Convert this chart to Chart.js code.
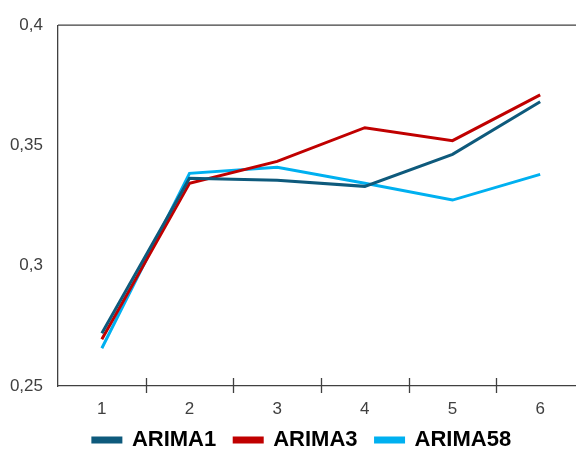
<!DOCTYPE html>
<html>
<head>
<meta charset="utf-8">
<script src="https://cdn.jsdelivr.net/npm/chart.js@4.4.1/dist/chart.umd.min.js"></script>
<style>
  html, body { margin: 0; padding: 0; background: #fff; }
  #wrap { width: 576px; height: 453px; overflow: hidden; }
</style>
</head>
<body>
<div id="wrap"><canvas id="chart" width="584" height="453"></canvas></div>
<script>
const categories = ['1', '2', '3', '4', '5', '6'];
const arima1 = [0.2719, 0.3364, 0.3355, 0.3330, 0.3463, 0.3682];
const arima3 = [0.2694, 0.3343, 0.3434, 0.3574, 0.3520, 0.3710];
const arima58 = [0.2657, 0.3384, 0.3409, 0.3343, 0.3273, 0.3380];
const yTicks = [0.25, 0.3, 0.35, 0.4];

// frame: top line + crossing tick marks on the x axis, legend nudged right
const framePlugin = {
  id: 'frame',
  afterLayout(chart) {
    chart.legend.left += 10;
    chart.legend.right += 10;
  },
  afterDraw(chart) {
    const { ctx, chartArea } = chart;
    const x = chart.scales.x;
    ctx.save();
    ctx.strokeStyle = '#404040';
    ctx.lineWidth = 1.3;
    ctx.beginPath();
    ctx.moveTo(chartArea.left, chartArea.top);
    ctx.lineTo(chart.width, chartArea.top);
    for (let i = 1; i < categories.length; i++) {
      const px = Math.round((x.getPixelForValue(i - 1) + x.getPixelForValue(i)) / 2) + 0.5;
      ctx.moveTo(px, chartArea.bottom - 8);
      ctx.lineTo(px, chartArea.bottom + 7);
    }
    ctx.stroke();
    ctx.restore();
  }
};

function series(label, data, color) {
  return {
    label, data,
    borderColor: color,
    backgroundColor: color,
    borderWidth: 3,
    pointRadius: 0,
    tension: 0
  };
}

new Chart(document.getElementById('chart'), {
  type: 'line',
  data: {
    labels: categories,
    datasets: [
      series('ARIMA1', arima1, '#0e5a7c'),
      series('ARIMA3', arima3, '#c00000'),
      series('ARIMA58', arima58, '#00b0f0')
    ]
  },
  options: {
    responsive: false,
    animation: false,
    layout: { padding: { top: 23, right: 0, bottom: 0, left: 0 } },
    plugins: {
      tooltip: { enabled: false },
      legend: {
        position: 'bottom',
        maxHeight: 42,
        labels: {
          boxWidth: 28,
          boxHeight: 4,
          padding: 18,
          color: '#000',
          font: { family: 'Liberation Sans', size: 22, weight: 'bold' }
        }
      }
    },
    scales: {
      x: {
        offset: true,
        grid: { display: false, drawTicks: false },
        border: { display: true, color: '#404040', width: 1.3 },
        ticks: {
          padding: 13,
          color: '#404040',
          font: { family: 'Liberation Sans', size: 17 }
        },
        afterFit(s) {
          s.height = 25;
          s._computeLabelArea = () => undefined; // labels may spill below the box
        }
      },
      y: {
        min: 0.25,
        max: 0.4,
        afterBuildTicks(s) { s.ticks = yTicks.map(v => ({ value: v })); },
        grid: { display: false, drawTicks: false },
        border: { display: true, color: '#404040', width: 1.3 },
        ticks: {
          padding: 15,
          color: '#404040',
          font: { family: 'Liberation Sans', size: 17 },
          callback: v => String(parseFloat(v.toFixed(2))).replace('.', ',')
        },
        afterFit(s) { s.width = 58; }
      }
    }
  },
  plugins: [framePlugin]
});
</script>
</body>
</html>
